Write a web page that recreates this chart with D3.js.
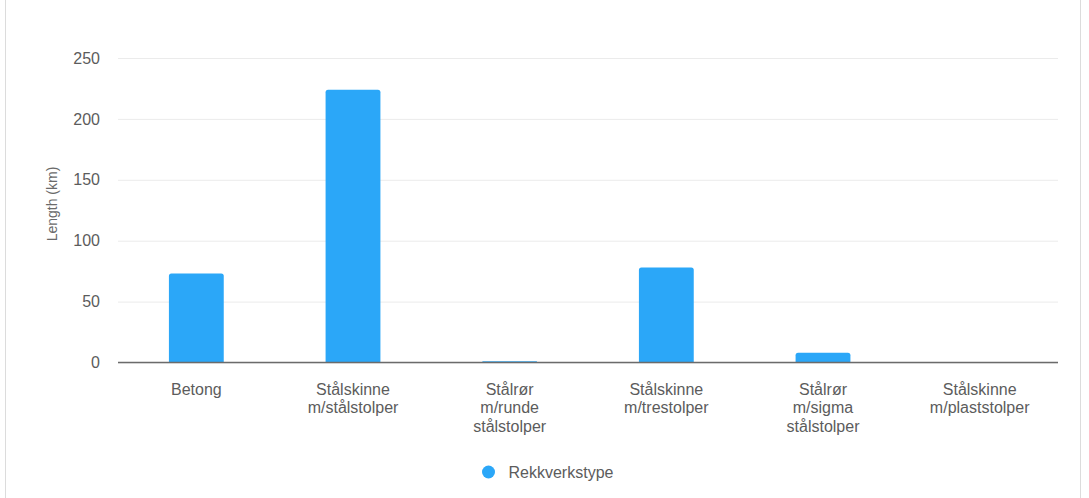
<!DOCTYPE html>
<html>
<head>
<meta charset="utf-8">
<script src="https://cdn.jsdelivr.net/npm/d3@7"></script>
<style>
  html, body { margin: 0; padding: 0; background: #fff; }
  svg { display: block; font-family: "Liberation Sans", Arial, sans-serif; }
</style>
</head>
<body>
<svg id="chart" width="1089" height="498"></svg>
<script>
// Barrier types (lines of each label) and their total lengths in km
const categories = [
  ["Betong"],
  ["Stålskinne", "m/stålstolper"],
  ["Stålrør", "m/runde", "stålstolper"],
  ["Stålskinne", "m/trestolper"],
  ["Stålrør", "m/sigma", "stålstolper"],
  ["Stålskinne", "m/plaststolper"]
];
const lengths = [73, 224, 1, 78, 8, 0];
const yTicks = [0, 50, 100, 150, 200, 250];
const seriesName = "Rekkverkstype";
const yTitle = "Length (km)";

(function draw() {
  const svg = d3.select("#chart");
  const H = 498;
  const plotLeft = 118, plotRight = 1058, plotTop = 58, plotBottom = 362.5;
  const barColor = "#2ba7f8";
  const textColor = "#5c5c5c";
  const fs = 16;

  // Card frame
  svg.append("rect")
    .attr("x", 5.5).attr("y", -1).attr("width", 1075).attr("height", H + 2)
    .attr("fill", "#fff").attr("stroke", "#dcdcdc");

  const keys = categories.map(c => c.join(" "));
  const x = d3.scaleBand().domain(keys).range([plotLeft, plotRight])
    .paddingInner(0.65).paddingOuter(0.325);
  const y = d3.scaleLinear().domain([0, 250]).range([plotBottom, plotTop]);

  // Horizontal gridlines + tick labels
  const yAxis = d3.axisLeft(y).tickValues(yTicks).tickSize(-(plotRight - plotLeft)).tickPadding(18);
  const gy = svg.append("g").attr("transform", `translate(${plotLeft},0)`).call(yAxis);
  gy.select(".domain").remove();
  gy.selectAll(".tick line").attr("stroke", "#ebebeb").attr("stroke-width", 1);
  gy.selectAll(".tick text").attr("fill", textColor).attr("font-size", fs)
    .attr("font-family", "'Liberation Sans', Arial, sans-serif");

  // Axis title
  svg.append("text")
    .attr("transform", "translate(57,204) rotate(-90)")
    .attr("text-anchor", "middle")
    .attr("fill", "#6a6a6a").attr("font-size", 14)
    .text(yTitle);

  // Bars with slightly rounded top corners
  const r = 2.5;
  const data = lengths.map((v, i) => ({ v, k: keys[i] })).filter(d => d.v > 0);
  svg.append("g").selectAll("path").data(data)
    .join("path")
    .attr("fill", barColor)
    .attr("d", d => {
      const x0 = x(d.k), x1 = x0 + x.bandwidth(), y0 = y(0), y1 = y(d.v);
      const rr = Math.min(r, (y0 - y1) / 2);
      return `M${x0},${y0}V${y1 + rr}Q${x0},${y1} ${x0 + rr},${y1}H${x1 - rr}Q${x1},${y1} ${x1},${y1 + rr}V${y0}Z`;
    });

  // Baseline
  svg.append("line")
    .attr("x1", plotLeft).attr("x2", plotRight).attr("y1", y(0)).attr("y2", y(0))
    .attr("stroke", "#6b6b6b").attr("stroke-width", 1.5);

  // Category labels (multi-line)
  const xl = svg.append("g").selectAll("text").data(categories).join("text")
    .attr("text-anchor", "middle")
    .attr("fill", textColor).attr("font-size", fs)
    .attr("transform", (d, i) => `translate(${x(keys[i]) + x.bandwidth() / 2},394.5)`);
  xl.selectAll("tspan").data(d => d).join("tspan")
    .attr("x", 0).attr("dy", (d, i) => i === 0 ? 0 : 18.5)
    .text(d => d);

  // Legend
  const lg = svg.append("g").attr("transform", "translate(488.5,472)");
  lg.append("circle").attr("r", 6.5).attr("fill", barColor);
  lg.append("text").attr("x", 20).attr("dy", "0.35em")
    .attr("fill", textColor).attr("font-size", fs).text(seriesName);
})();
</script>
</body>
</html>
